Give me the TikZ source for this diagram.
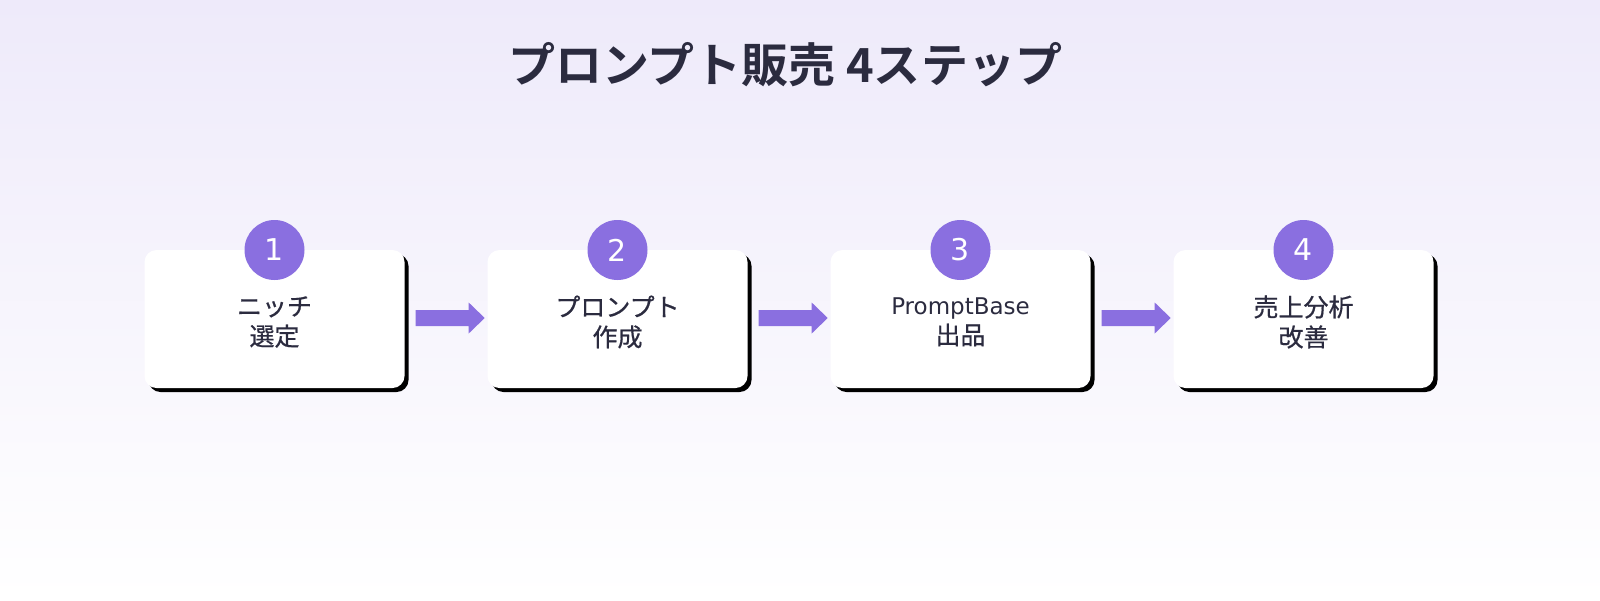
\documentclass[tikz,border=0pt]{standalone}
\usepackage{fontspec}
\setmainfont{Noto Sans CJK JP}[BoldFont={Noto Sans CJK JP Bold}]
\setsansfont{DejaVu Sans}
\definecolor{txt}{HTML}{2B2B3F}
\definecolor{pur}{HTML}{8A6FE0}
\definecolor{bgtop}{HTML}{EEEAFA}
\begin{document}
\begin{tikzpicture}[x=1pt,y=-1pt,
  box/.style={fill=white,rounded corners=12pt,minimum width=260pt,minimum height=138pt,inner sep=0pt},
  shadow/.style={fill=black,rounded corners=12pt,minimum width=260pt,minimum height=138pt,inner sep=0pt},
  num/.style={circle,fill=pur,minimum size=60pt,inner sep=0pt,text=white,font=\sffamily\fontsize{30pt}{32pt}\selectfont},
  lbl/.style={text=txt,align=center,font=\addfontfeatures{FakeBold=0.6}\fontsize{25pt}{30pt}\selectfont},
  arr/.style={fill=pur}]
\useasboundingbox (0,0) rectangle (1600,600);
\shade[top color=bgtop,bottom color=white] (0,0) rectangle (1600,600);
\node[text=txt,font=\fontsize{47pt}{50pt}\selectfont\bfseries] (title) at (785,65) {プロンプト販売 4ステップ};
\foreach \i/\t in {1/{ニッチ\\選定},2/{プロンプト\\作成},3/{{\sffamily\fontsize{23pt}{30pt}\selectfont PromptBase}\\出品},4/{売上分析\\改善}}{
  \pgfmathsetmacro{\cx}{274.5+343*(\i-1)}
  \node[shadow] (s\i) at (\cx+4,323) {};
  \node[box] (b\i) at (\cx,319) {};
  \node[lbl] (l\i) at (\cx,322) {\t};
  \node[num] (n\i) at (\cx,250) {\i};
}
\foreach \a/\b in {1/2,2/3,3/4}{
  \coordinate (p\a) at ([xshift=11pt,yshift=1pt]b\a.east);
  \fill[arr] (p\a) ++(0,-8) -- ++(53,0) -- ++(0,-7.5) -- ++(16,15.5) -- ++(-16,15.5) -- ++(0,-7.5) -- ++(-53,0) -- cycle;
}
\end{tikzpicture}
\end{document}
